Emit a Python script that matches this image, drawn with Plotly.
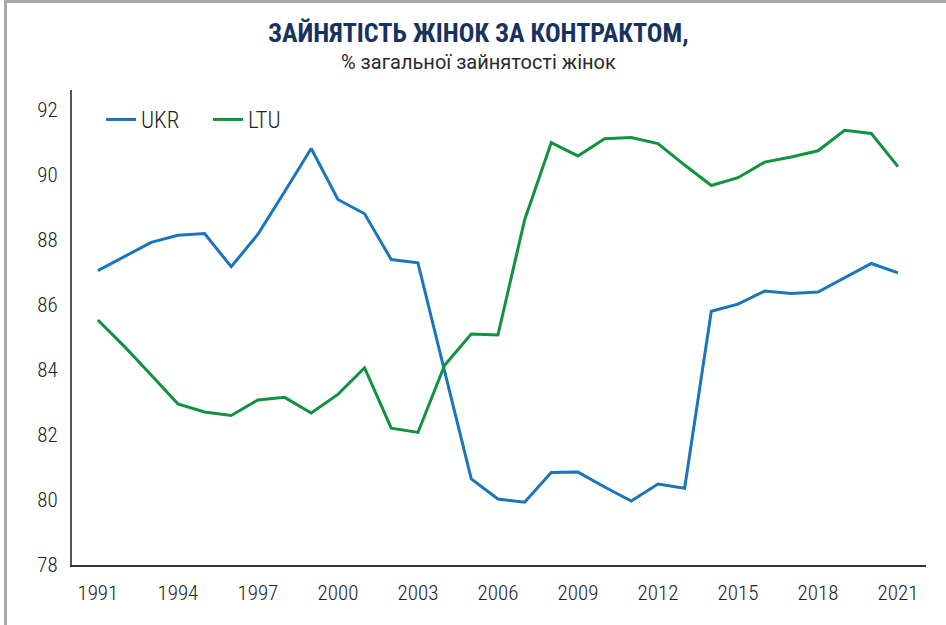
import plotly.graph_objects as go

years = list(range(1991, 2022))
ukr = [87.06, 87.49, 87.93, 88.15, 88.20, 87.18, 88.18, 89.49, 90.82, 89.25,
       88.81, 87.40, 87.30, 83.97, 80.65, 80.03, 79.93, 80.85, 80.86, 80.40,
       79.97, 80.49, 80.36, 85.81, 86.03, 86.43, 86.36, 86.40, 86.85, 87.28, 86.99]
ltu = [85.54, 84.72, 83.85, 82.96, 82.71, 82.60, 83.08, 83.16, 82.68, 83.25,
       84.07, 82.21, 82.08, 84.15, 85.11, 85.08, 88.62, 91.00, 90.59, 91.12,
       91.16, 90.97, 90.31, 89.68, 89.92, 90.40, 90.56, 90.75, 91.38, 91.28, 90.26]
x_ticks = [1991, 1994, 1997, 2000, 2003, 2006, 2009, 2012, 2015, 2018, 2021]
y_ticks = [78, 80, 82, 84, 86, 88, 90, 92]
title = "ЗАЙНЯТІСТЬ ЖІНОК ЗА КОНТРАКТОМ,"
subtitle = "% загальної зайнятості жінок"

W, H = 946, 625
ML, MR, MT, MB = 72, 20, 90, 60
PW, PH = W - ML - MR, H - MT - MB

def px(x):
    return (x - ML) / PW

def py(y):
    return 1 + (MT - y) / PH

COND = "Roboto Condensed, DejaVu Sans Condensed, Roboto, sans-serif"
tick_font = dict(family=COND, size=21, color="#222222", weight=300)

fig = go.Figure()
fig.add_trace(go.Scatter(x=years, y=ukr, mode="lines", name="UKR",
                         line=dict(color="#1b75bc", width=3)))
fig.add_trace(go.Scatter(x=years, y=ltu, mode="lines", name="LTU",
                         line=dict(color="#12913f", width=3)))

fig.update_layout(
    width=W, height=H,
    margin=dict(l=ML, r=MR, t=MT, b=MB),
    paper_bgcolor="white", plot_bgcolor="white",
    showlegend=True,
    legend=dict(orientation="h", x=px(101), y=py(98), xanchor="left", yanchor="top",
                font=dict(family=COND, size=23, color="#222222", weight=300),
                bgcolor="rgba(0,0,0,0)", itemwidth=30,
                entrywidth=62, entrywidthmode="pixels"),
    xaxis=dict(range=[1990.03, 2022.05], tickvals=x_ticks, ticktext=[str(v) for v in x_ticks],
               showgrid=False, zeroline=False, showline=True, linecolor="#333333", linewidth=2,
               ticks="", tickfont=tick_font, ticklabelstandoff=8),
    yaxis=dict(range=[78, 92.62], tickvals=y_ticks, showgrid=False, zeroline=False,
               showline=True, linecolor="#555555", linewidth=2,
               ticks="", tickfont=tick_font, ticklabelstandoff=8),
    annotations=[
        dict(text="<b>" + title + "</b>", x=px(478), y=py(33), xref="paper", yref="paper",
             showarrow=False, xanchor="center", yanchor="middle",
             font=dict(family=COND, size=26, color="#15335e")),
        dict(text=subtitle, x=px(478), y=py(62), xref="paper", yref="paper",
             showarrow=False, xanchor="center", yanchor="middle",
             font=dict(family="Roboto", size=20, color="#2a2a2a")),
    ],
    shapes=[
        dict(type="line", xref="paper", yref="paper", layer="above",
             x0=px(4), x1=px(946), y0=py(1.5), y1=py(1.5),
             line=dict(color="#a8a8a8", width=3)),
        dict(type="line", xref="paper", yref="paper", layer="above",
             x0=px(5.5), x1=px(5.5), y0=py(0), y1=py(625),
             line=dict(color="#a8a8a8", width=3)),
    ],
)

fig.write_html("out.html", config={"displayModeBar": False})
with open("out.html", "r", encoding="utf-8") as f:
    html = f.read()
html = html.replace("<head>", "<head><style>html,body{margin:0;padding:0;overflow:hidden;}</style>", 1)
with open("out.html", "w", encoding="utf-8") as f:
    f.write(html)
